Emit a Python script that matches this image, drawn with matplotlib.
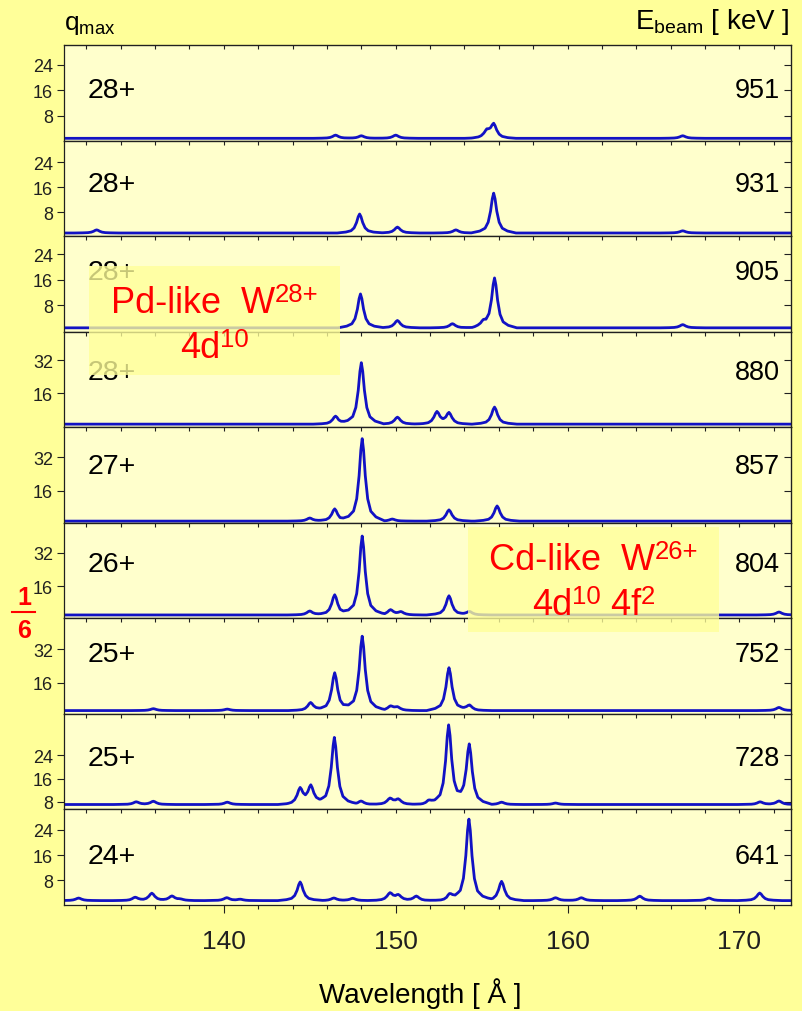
import numpy as np
import matplotlib
matplotlib.use("Agg")
import matplotlib.pyplot as plt
from matplotlib.ticker import MultipleLocator
from matplotlib.patches import Rectangle
from matplotlib.lines import Line2D

plt.rcParams['font.family'] = ['Liberation Sans', 'DejaVu Sans']
plt.rcParams['mathtext.fontset'] = 'custom'
plt.rcParams['mathtext.rm'] = 'Liberation Sans'
plt.rcParams['mathtext.it'] = 'Liberation Sans:italic'
plt.rcParams['mathtext.bf'] = 'Liberation Sans:bold'

# beam energy [keV] and highest charge state, top panel first
energies = ['951', '931', '905', '880', '857', '804', '752', '728', '641']
charges = ['28+', '28+', '28+', '28+', '27+', '26+', '25+', '25+', '24+']

# line positions [A] and peak intensities, background level per spectrum
peak_wl = [
    [146.5, 148.0, 150.0, 155.3, 155.7, 166.7],
    [132.6, 147.9, 150.1, 153.5, 155.7, 166.7],
    [147.95, 150.1, 153.3, 155.1, 155.75, 166.7],
    [146.5, 148.0, 150.1, 152.4, 153.1, 155.75],
    [145.0, 146.45, 148.05, 149.8, 153.1, 155.9],
    [145.0, 146.45, 148.05, 149.7, 150.3, 153.1, 154.3, 172.3],
    [135.9, 140.2, 145.05, 146.45, 148.05, 149.7, 150.1, 153.1, 154.3, 172.3],
    [134.9, 135.9, 140.2, 144.44, 145.06, 146.43, 147.98, 149.67, 150.15,
     151.9, 153.08, 154.28, 156.16, 159.3, 171.2, 172.3],
    [131.55, 134.84, 135.81, 136.98, 137.46, 140.17, 140.95, 144.44, 146.4,
     147.5, 149.67, 150.15, 151.2, 153.13, 154.26, 156.16, 159.3, 160.8,
     164.2, 168.23, 171.18],
]
peak_int = [
    [2.0, 1.8, 2.0, 3.1, 5.3, 1.8],
    [2.3, 7.4, 3.2, 2.3, 14.1, 2.0],
    [11.6, 3.3, 2.3, 2.3, 16.5, 2.0],
    [4.9, 30.9, 4.4, 6.8, 6.3, 9.3],
    [2.8, 7.2, 41.0, 2.3, 6.7, 8.6],
    [4.3, 12.0, 39.9, 4.8, 3.8, 11.5, 4.0, 3.8],
    [3.5, 3.3, 6.5, 20.8, 38.4, 4.6, 4.1, 23.2, 5.1, 4.1],
    [8.0, 8.2, 7.9, 12.4, 13.4, 30.2, 8.3, 9.1, 8.8, 8.3, 34.3, 27.7,
     7.9, 7.6, 8.0, 8.3],
    [2.4, 2.6, 3.9, 3.0, 2.0, 2.5, 2.0, 7.5, 2.4, 2.3, 3.9, 3.2, 3.0, 3.4,
     27.4, 7.7, 2.5, 2.5, 3.0, 2.4, 4.0],
]
background = [1.0, 1.3, 1.0, 1.0, 1.3, 2.4, 2.6, 7.1, 1.6]

y_ticks = [[8, 16, 24]] * 3 + [[16, 32]] * 4 + [[8, 16, 24]] * 2
y_limits = [(0.3, 30.2), (0.3, 31.0), (-0.2, 29.7), (-0.5, 46.0), (0.5, 46.5),
            (0.8, 46.2), (1.0, 47.0), (5.4, 38.3), (0.2, 30.5)]
label_y = [0.46, 0.47, 0.55, 0.50, 0.52, 0.50, 0.55, 0.46, 0.44]

# line shape used for every peak (offset in A, fraction of peak height)
shape_dx = np.array([-1.3, -0.8, -0.5, -0.32, -0.18, -0.08, 0.0,
                     0.08, 0.18, 0.32, 0.5, 0.8, 1.3])
shape_f = np.array([0.0, 0.05, 0.12, 0.27, 0.55, 0.86, 1.0,
                    0.86, 0.55, 0.27, 0.12, 0.05, 0.0])

WL_MIN, WL_MAX = 130.7, 173.0


def spectrum(centers, heights, base):
    knots = [WL_MIN, WL_MAX]
    for c in centers:
        knots.extend(c + shape_dx)
    x = np.unique(np.clip(knots, WL_MIN, WL_MAX))
    y = np.full_like(x, base)
    for c, h in zip(centers, heights):
        y += (h - base) * np.interp(x, c + shape_dx, shape_f, left=0, right=0)
    return x, y


W, H = 802, 1012
fig = plt.figure(figsize=(W / 100, H / 100), dpi=100, facecolor='#FFFF99')
gs = fig.add_gridspec(9, 1, left=64 / W, right=791 / W, top=1 - 46 / H,
                      bottom=1 - 906 / H, hspace=0)

for i in range(9):
    ax = fig.add_subplot(gs[i])
    ax.set_facecolor('#FFFFCC')
    x, y = spectrum(peak_wl[i], peak_int[i], background[i])
    ax.plot(x, y, color='#1212C4', lw=2.0, solid_joinstyle='round')
    ax.set_xlim(WL_MIN, WL_MAX)
    ax.set_ylim(*y_limits[i])
    ax.set_yticks(y_ticks[i])
    ax.xaxis.set_major_locator(MultipleLocator(10))
    ax.xaxis.set_minor_locator(MultipleLocator(2))
    last = i == 8
    ax.tick_params(axis='y', direction='out', length=5, width=0.8,
                   labelsize=13, pad=3, colors='#202020')
    ax.tick_params(axis='x', which='major', direction='out',
                   length=6 if last else 4.5, width=0.8, labelsize=19,
                   pad=11, labelbottom=last, colors='#202020')
    ax.tick_params(axis='x', which='minor', direction='out',
                   length=3 if last else 4.5, width=0.8, colors='#202020')
    for s in ax.spines.values():
        s.set_color('#202020')
        s.set_linewidth(0.9)

    top = ax.secondary_xaxis('top')
    top.xaxis.set_major_locator(MultipleLocator(10))
    top.xaxis.set_minor_locator(MultipleLocator(2))
    top.tick_params(axis='x', which='both', direction='in', length=3,
                    width=0.8, labeltop=False, colors='#202020')
    right = ax.secondary_yaxis('right')
    right.set_yticks(y_ticks[i])
    right.tick_params(axis='y', direction='in', length=5, width=0.8,
                      labelright=False, colors='#202020')

    ax.text(0.033, label_y[i], charges[i], transform=ax.transAxes,
            fontsize=20.5, va='baseline', ha='left')
    ax.text(0.985, label_y[i], energies[i], transform=ax.transAxes,
            fontsize=19.5, va='baseline', ha='right')

fig.text(64 / W, 1 - 30 / H, r'q$_{\mathregular{max}}$', fontsize=19,
         va='baseline', ha='left')
fig.text(790 / W, 1 - 29 / H, r'E$_{\mathregular{beam}}$ [ keV ]', fontsize=20,
         va='baseline', ha='right')
fig.text(420 / W, 1 - 1003 / H, 'Wavelength [ Å ]', fontsize=20,
         va='baseline', ha='center')

# red 1/6 fraction on the left margin
fig.text(24 / W, 1 - 605 / H, '1', color='#FF0000', fontsize=18,
         fontweight='bold', ha='center', va='baseline')
fig.add_artist(Line2D([12 / W, 35 / W], [1 - 613 / H, 1 - 613 / H],
                      transform=fig.transFigure, color='#FF0000', lw=1.5))
fig.text(24 / W, 1 - 638 / H, '6', color='#FF0000', fontsize=18,
         fontweight='bold', ha='center', va='baseline')

renderer = fig.canvas.get_renderer()


def red_line(xc, yb, parts, size=26, sup_size=18.5, sup_raise=11):
    """Centred red text; parts are (string, is_superscript) pieces."""
    items = []
    for s, sup in parts:
        t = fig.text(0, 0, s, color='#FF0000', fontsize=sup_size if sup else size,
                     ha='left', va='baseline', zorder=6)
        items.append((t, sup, t.get_window_extent(renderer).width))
    x = xc - sum(w for _, _, w in items) / 2
    for t, sup, w in items:
        t.set_position((x / W, 1 - (yb - (sup_raise if sup else 0)) / H))
        x += w


# annotation boxes for the two ion configurations
boxes = [
    ((89, 267, 340, 376), [([('Pd-like  W', False), ('28+', True)], 312.7),
                           ([('4d', False), ('10', True)], 358)]),
    ((468, 528, 719, 633), [([('Cd-like  W', False), ('26+', True)], 570),
                            ([('4d', False), ('10', True), (' 4f', False),
                              ('2', True)], 615)]),
]
for (x0, y0, x1, y1), lines in boxes:
    fig.add_artist(Rectangle((x0 / W, 1 - y1 / H), (x1 - x0) / W, (y1 - y0) / H,
                             transform=fig.transFigure, facecolor='#FFFF99',
                             edgecolor='none', alpha=0.78, zorder=5))
    for parts, yb in lines:
        red_line((x0 + x1) / 2, yb, parts)

fig.savefig('out.png', dpi=100, facecolor=fig.get_facecolor())
